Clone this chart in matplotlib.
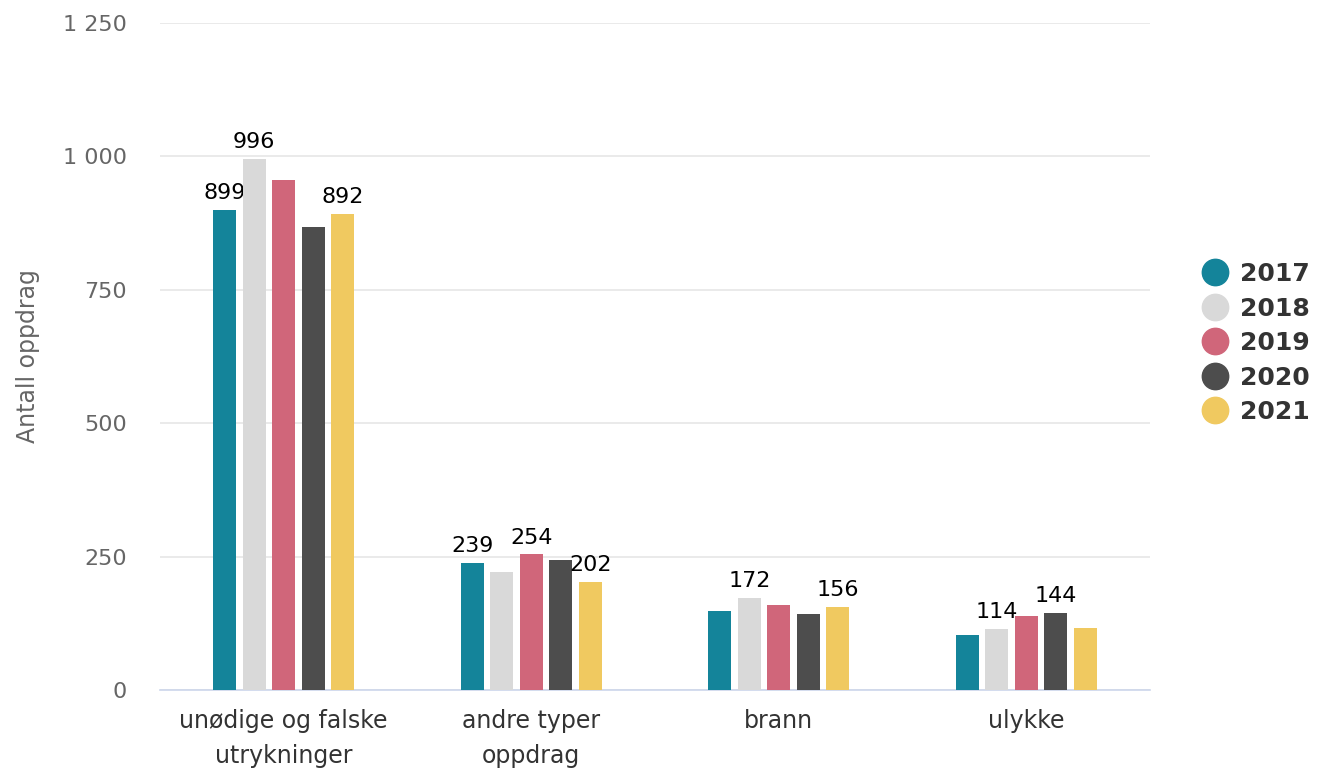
import numpy as np
import matplotlib.pyplot as plt
from matplotlib.ticker import FuncFormatter
from matplotlib.lines import Line2D

categories = ["unødige og falske\nutrykninger", "andre typer\noppdrag", "brann", "ulykke"]
years = ["2017", "2018", "2019", "2020", "2021"]
values = {
    "2017": [899, 239, 148, 104],
    "2018": [996, 222, 172, 114],
    "2019": [955, 254, 160, 138],
    "2020": [868, 244, 142, 144],
    "2021": [892, 202, 156, 116],
}
# which bars carry a visible data label (others are hidden as overlapping)
shown = {
    "2017": [True, True, False, False],
    "2018": [True, False, True, True],
    "2019": [False, True, False, False],
    "2020": [False, False, False, True],
    "2021": [True, True, True, False],
}
colors = ["#14849a", "#d9d9d9", "#d0667a", "#4d4d4d", "#f0c960"]

fig = plt.figure(figsize=(13.31, 7.69), dpi=100)
ax = fig.add_axes([0.1202, 0.1027, 0.7438, 0.8673])

x = np.arange(len(categories))
pitch = 0.119
width = 0.093
for i, yr in enumerate(years):
    pos = x + (i - 2) * pitch
    bars = ax.bar(pos, values[yr], width, color=colors[i], zorder=3)
    for b, v, s in zip(bars, values[yr], shown[yr]):
        if s:
            ax.annotate(str(v), (b.get_x() + b.get_width() / 2, v),
                        xytext=(0, 5), textcoords="offset points",
                        ha="center", va="bottom", fontsize=16, color="#000000")

ax.set_xlim(-0.5, 3.5)
ax.set_ylim(0, 1250)
ax.set_yticks(np.arange(0, 1251, 250))
ax.yaxis.set_major_formatter(FuncFormatter(lambda v, p: f"{int(v):,}".replace(",", " ")))
ax.grid(axis="y", color="#e6e6e6", linewidth=1.2, zorder=0)
for s in ["top", "right", "left"]:
    ax.spines[s].set_visible(False)
ax.spines["bottom"].set_color("#ccd6eb")
ax.spines["bottom"].set_linewidth(1.2)
ax.tick_params(axis="y", length=0, labelsize=16, labelcolor="#666666", pad=24)
ax.tick_params(axis="x", length=0, labelsize=17, labelcolor="#333333", pad=14)
ax.set_xticks(x)
ax.set_xticklabels(categories, linespacing=1.55)
ax.set_ylabel("Antall oppdrag", fontsize=17, color="#666666", labelpad=16)

handles = [Line2D([], [], marker="o", linestyle="", markersize=19,
                  markerfacecolor=c, markeredgecolor=c) for c in colors]
ax.legend(handles, years, loc="center left", bbox_to_anchor=(1.053, 0.52),
          frameon=False, handlelength=1.0, handletextpad=0.5, labelspacing=0.42,
          borderaxespad=0, borderpad=0,
          prop={"size": 18, "weight": "bold"}, labelcolor="#333333")

fig.savefig("out.png", dpi=100)
